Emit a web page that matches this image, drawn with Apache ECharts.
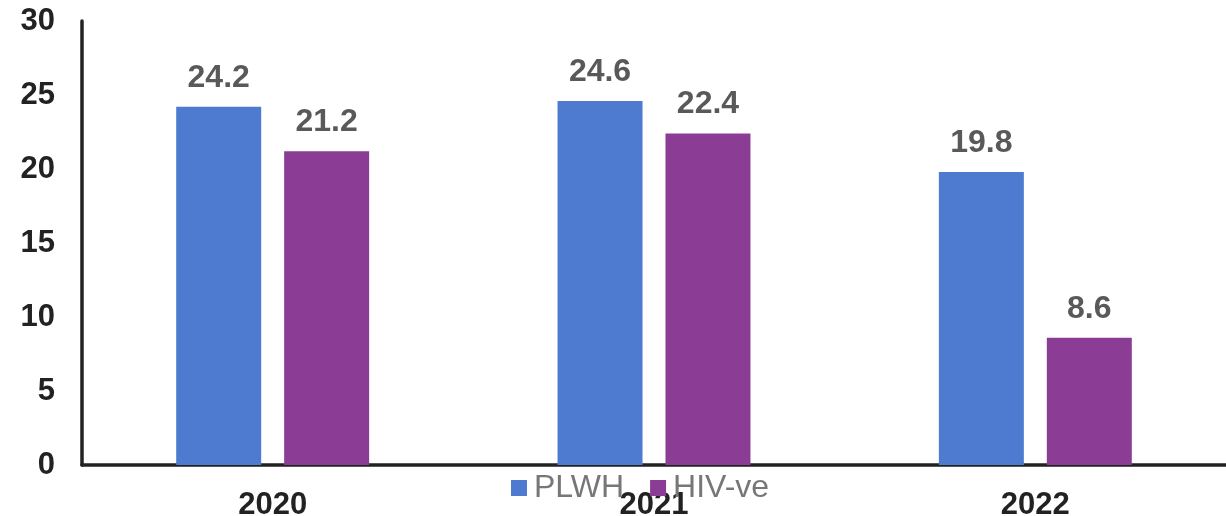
<!DOCTYPE html>
<html>
<head>
<meta charset="utf-8">
<title>PLWH vs HIV-ve</title>
<style>
  * { margin: 0; padding: 0; }
  body { background: #fff; }
  #main { width: 1226px; height: 516px; }
</style>
</head>
<body>
<div id="main"></div>
<script src="https://cdn.jsdelivr.net/npm/echarts@6/dist/echarts.min.js"></script>
<script>
  var years = ['2020', '2021', '2022'];
  var plwh = [24.2, 24.6, 19.8];
  var hivNeg = [21.2, 22.4, 8.6];
  var seriesNames = ['PLWH', 'HIV-ve'];

  var font = '"Liberation Sans", Arial, sans-serif';
  var chart = echarts.init(document.getElementById('main'));

  var labelStyle = {
    show: true,
    position: 'top',
    distance: 13,
    color: '#595959',
    fontSize: 32,
    fontWeight: 'bold',
    fontFamily: font
  };

  chart.setOption({
    animation: false,
    textStyle: { fontFamily: font },
    legend: {
      left: 506,
      top: 467,
      itemWidth: 16,
      itemHeight: 16,
      itemGap: 26,
      icon: 'rect',
      textStyle: { color: '#777', fontSize: 32, fontFamily: font, padding: [0, 0, 0, 2] },
      data: seriesNames
    },
    grid: { left: 82, right: 0, top: 21, bottom: 51, outerBoundsMode: 'none', containLabel: false },
    xAxis: {
      type: 'category',
      data: years,
      axisLine: { lineStyle: { color: '#222', width: 3.5 } },
      axisTick: { show: false },
      axisLabel: { color: '#222', fontSize: 31, fontWeight: 'bold', margin: 25, fontFamily: font }
    },
    yAxis: {
      type: 'value',
      min: 0,
      max: 30,
      interval: 5,
      splitLine: { show: false },
      axisLine: { show: true, lineStyle: { color: '#222', width: 3.5 } },
      axisTick: { show: false },
      axisLabel: { color: '#222', fontSize: 31, fontWeight: 'bold', margin: 27, fontFamily: font }
    },
    series: [
      {
        name: seriesNames[0],
        type: 'bar',
        data: plwh,
        barWidth: 85,
        barGap: '27%',
        itemStyle: { color: '#4E7BCF' },
        label: labelStyle
      },
      {
        name: seriesNames[1],
        type: 'bar',
        data: hivNeg,
        barWidth: 85,
        barGap: '27%',
        itemStyle: { color: '#8B3D96' },
        label: labelStyle
      }
    ]
  });
</script>
</body>
</html>
